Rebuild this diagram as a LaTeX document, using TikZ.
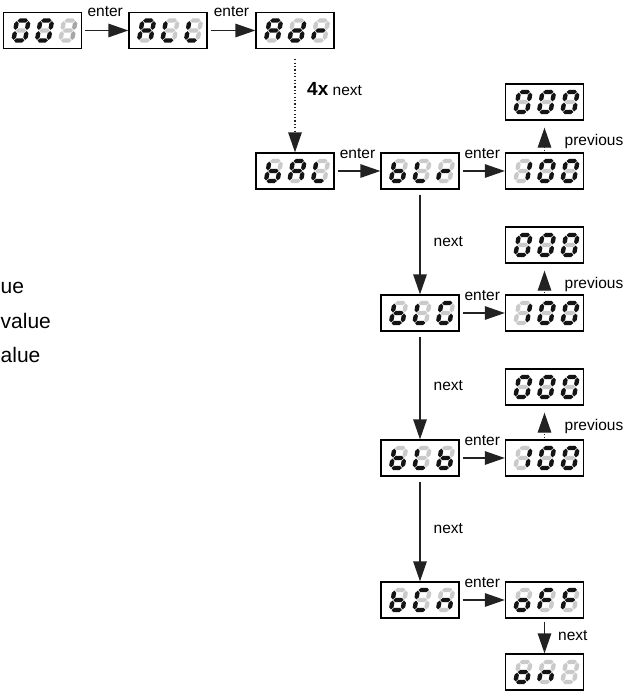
\documentclass[tikz,border=0pt]{standalone}
\usepackage{fontspec}
\setmainfont{Liberation Sans}
\usetikzlibrary{arrows.meta,calc}
\definecolor{K}{HTML}{141414}
\definecolor{O}{HTML}{CACACA}
\definecolor{M}{HTML}{A6A6A6}
\definecolor{linec}{HTML}{222222}
% one horizontal segment: #1 = y, #2 = colour
\newcommand\hseg[2]{\fill[#2] (-5.2,#1) -- ({-3.0},{#1-2.2}) -- ({3.0},{#1-2.2}) -- (5.2,#1) -- ({3.0},{#1+2.2}) -- ({-3.0},{#1+2.2}) -- cycle;}
% one vertical segment: #1 = x, #2 = y1, #3 = y2, #4 = colour
\newcommand\vseg[4]{\fill[#4] (#1,#2) -- ({#1+2.2},{#2+2.2}) -- ({#1+2.2},{#3-2.2}) -- (#1,#3) -- ({#1-2.2},{#3-2.2}) -- ({#1-2.2},{#2+2.2}) -- cycle;}
% a b c d e f g
\newcommand\digX[7]{%
  \begin{scope}[shift={(\digpos)}, xslant=0.18]
    \hseg{-10}{#1}%
    \vseg{5.8}{-9.4}{-0.6}{#2}%
    \vseg{5.8}{0.6}{9.4}{#3}%
    \hseg{10}{#4}%
    \vseg{-5.8}{0.6}{9.4}{#5}%
    \vseg{-5.8}{-9.4}{-0.6}{#6}%
    \hseg{0}{#7}%
  \end{scope}}
\newcommand\defglyph[2]{\expandafter\def\csname gl#1\endcsname{#2}}
\defglyph{0}{{K}{K}{K}{K}{K}{K}{O}}
\defglyph{1}{{O}{K}{K}{O}{O}{O}{O}}
\defglyph{i}{{O}{M}{M}{O}{O}{O}{O}}
\defglyph{A}{{K}{K}{K}{O}{K}{K}{K}}
\defglyph{L}{{O}{O}{O}{K}{K}{K}{O}}
\defglyph{d}{{O}{K}{K}{K}{K}{O}{K}}
\defglyph{r}{{O}{O}{O}{O}{K}{O}{K}}
\defglyph{b}{{O}{O}{K}{K}{K}{K}{K}}
\defglyph{G}{{K}{O}{K}{K}{K}{K}{O}}
\defglyph{C}{{K}{O}{O}{K}{K}{K}{O}}
\defglyph{n}{{O}{O}{K}{O}{K}{O}{K}}
\defglyph{o}{{O}{O}{K}{K}{K}{O}{K}}
\defglyph{F}{{K}{O}{O}{O}{K}{K}{K}}
\defglyph{x}{{O}{O}{O}{O}{O}{O}{O}}
\newcommand\glyph[1]{\expandafter\expandafter\expandafter\digX\csname gl#1\endcsname}
\newcommand\display[6]{%
  \node[disp] (#1) at (#2,#3) {};
  \pgfmathsetmacro\dxa{#2-21.5}\edef\digpos{\dxa,#3}\glyph{#4}%
  \pgfmathsetmacro\dxa{#2+2}\edef\digpos{\dxa,#3}\glyph{#5}%
  \pgfmathsetmacro\dxa{#2+25.5}\edef\digpos{\dxa,#3}\glyph{#6}%
}
\begin{document}
\begin{tikzpicture}[x=1pt,y=-1pt,
  disp/.style={draw=black, line width=1.3pt, fill=white, minimum width=78pt, minimum height=36pt, inner sep=0pt},
  lbl/.style={font=\fontsize{15.5}{18}\selectfont, inner sep=0pt, text=black},
  lefttxt/.style={font=\fontsize{21}{25}\selectfont, inner sep=0pt, text=black},
  arr/.style={draw=linec, line width=1.3pt, -{Triangle[length=20pt,width=13.5pt]}, shorten <=3pt},
  arrdot/.style={arr, dash pattern=on 1.2pt off 2.2pt}]
\useasboundingbox (0,0) rectangle (633,694);
\path[fill=white] (0,0) rectangle (633,694);
% displays
\display{n001}{42.5}{30.5}{0}{0}{i}
\display{nALL}{168}{30.5}{A}{L}{L}
\display{nAdr}{295}{30.5}{A}{d}{r}
\display{nbAL}{295}{171}{b}{A}{L}
\display{nbLr}{420}{171}{b}{L}{r}
\display{v1}{544.5}{171}{1}{0}{0}
\display{z1}{544.5}{102}{0}{0}{0}
\display{nbLG}{420}{313}{b}{L}{G}
\display{v2}{544.5}{313}{1}{0}{0}
\display{z2}{544.5}{245}{0}{0}{0}
\display{nbLb}{420}{458}{b}{L}{b}
\display{v3}{544.5}{458}{1}{0}{0}
\display{z3}{544.5}{387}{0}{0}{0}
\display{nbCn}{420}{600}{b}{C}{n}
\display{noFF}{544.5}{600}{o}{F}{F}
\display{non}{544.5}{672}{o}{n}{x}
% horizontal enter arrows
\draw[arr] (n001) -- node[lbl, anchor=base, yshift=14pt]{enter} (nALL);
\draw[arr] (nALL) -- node[lbl, anchor=base, yshift=14pt]{enter} (nAdr);
\draw[arr] (nbAL) -- node[lbl, anchor=base, yshift=13pt]{enter} (nbLr);
\draw[arr] (nbLr) -- node[lbl, anchor=base, yshift=13pt]{enter} (v1);
\draw[arr] (nbLG) -- node[lbl, anchor=base, yshift=13pt]{enter} (v2);
\draw[arr] (nbLb) -- node[lbl, anchor=base, yshift=13pt]{enter} (v3);
\draw[arr] (nbCn) -- node[lbl, anchor=base, yshift=13pt]{enter} (noFF);
% 4x next
\draw[arrdot, shorten <=10pt] (nAdr) -- (nbAL);
\node[lbl, anchor=base west] (l4x) at ($(nAdr.south)+(12,46.5)$) {{\fontsize{19}{22}\selectfont\bfseries 4x} next};
% next arrows
\draw[arr, shorten <=5pt] (nbLr) -- node[lbl, anchor=west, xshift=13pt]{next} (nbLG);
\draw[arr, shorten <=5pt] (nbLG) -- node[lbl, anchor=west, xshift=13pt]{next} (nbLb);
\draw[arr, shorten <=5pt] (nbLb) -- node[lbl, anchor=west, xshift=13pt]{next} (nbCn);
\draw[arr] (noFF) -- node[lbl, anchor=west, xshift=13pt]{next} (non);
% previous arrows
\draw[arrdot, shorten <=1pt, shorten >=7pt] (v1) -- (z1);
\draw[arrdot, shorten <=1pt, shorten >=7pt] (v2) -- (z2);
\draw[arrdot, shorten <=1pt, shorten >=7pt] (v3) -- (z3);
\node[lbl, anchor=west] (p1) at ($(z1.south)+(20,21)$) {previous};
\node[lbl, anchor=west] (p2) at ($(z2.south)+(20,21)$) {previous};
\node[lbl, anchor=west] (p3) at ($(z3.south)+(20,21)$) {previous};
% text fragments at the left edge
\node[lefttxt, anchor=base west] (t1) at (0.5,293) {ue};
\node[lefttxt, anchor=base west] (t2) at (0.5,328) {value};
\node[lefttxt, anchor=base west] (t3) at (0.5,362) {alue};
\end{tikzpicture}
\end{document}
